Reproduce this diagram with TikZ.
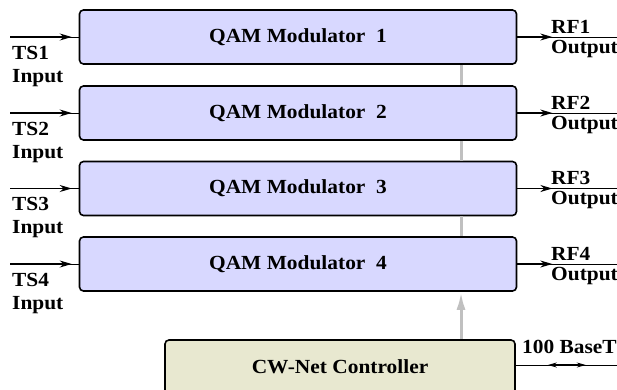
\documentclass[tikz,border=0pt]{standalone}
\usepackage{fontspec}
\setmainfont[FakeStretch=1.07]{Liberation Serif}
\usetikzlibrary{arrows.meta}

\definecolor{modfill}{RGB}{216,216,255}
\definecolor{ctlfill}{RGB}{232,232,208}
\definecolor{busgray}{RGB}{192,192,192}

\tikzset{
  modbox/.style={draw,line width=1.6pt,rounded corners=4pt,fill=modfill,
    minimum width=437pt,minimum height=54pt,inner sep=0pt,
    font=\bfseries\fontsize{20}{24}\selectfont},
  ctlbox/.style={draw,line width=1.6pt,rounded corners=4pt,fill=ctlfill,
    minimum width=350pt,minimum height=54pt,inner sep=0pt,
    font=\bfseries\fontsize{20}{24}\selectfont},
  lbl/.style={inner sep=0pt,align=left,font=\bfseries\fontsize{20}{20}\selectfont},
  sig/.style={line width=1.2pt,-{Stealth[length=12pt,width=7pt]}},
  wire/.style={line width=1pt},
  bus/.style={busgray,line width=3pt}
}

\begin{document}
\begin{tikzpicture}[x=1pt,y=-1pt]
  \useasboundingbox (0,0) rectangle (617,389);
  \coordinate (tap) at (461,0);

  % modulator chain
  \foreach \i/\y in {1/37,2/113,3/188.5,4/264}{
    \node[modbox] (m\i) at (298,\y) {QAM Modulator\ \ \i};
    \coordinate (in\i) at (10,\y);
    \coordinate (out\i) at (630,\y);
    \draw[wire] (in\i) -- (m\i.west);
    \draw[sig] (in\i) -- ([xshift=-7pt]m\i.west);
    \draw[wire] (m\i.east) -- (out\i);
    \draw[sig] (m\i.east) -- ([xshift=35pt]m\i.east);
    % base of a two line label is its last line
    \node[lbl,anchor=base west] (ts\i) at (12,\y+45) {TS\i\\[3pt]Input};
    \node[lbl,anchor=base west] (rf\i) at (551,\y+16) {RF\i\\Output};
  }

  % controller and its bus up to the modulators
  \node[ctlbox] (ctl) at (340,367) {CW-Net Controller};
  \draw[busgray,line width=3pt,-{Latex[length=18pt,width=9pt]}] (ctl.north -| tap) -- (m4.south -| tap);
  \foreach \i/\j in {1/2,2/3,3/4}
    \draw[bus] (m\i.south -| tap) -- (m\j.north -| tap);

  % ethernet port
  \coordinate (eth) at (630,365);
  \node[lbl,anchor=base west] (base) at (522,353) {100 BaseT};
  \draw[wire] (ctl.east |- eth) -- (eth);
  \draw[line width=1.2pt,{Stealth[length=9pt,width=5pt]}-{Stealth[length=9pt,width=5pt]}]
    ([xshift=32pt]ctl.east |- eth) -- ([xshift=70pt]ctl.east |- eth);
\end{tikzpicture}
\end{document}
